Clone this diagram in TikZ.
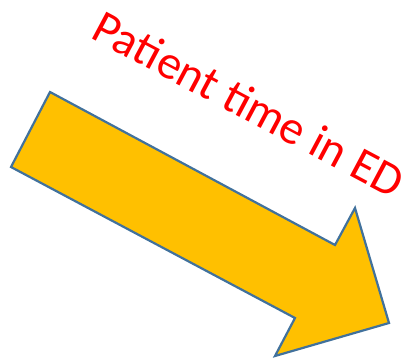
\documentclass[tikz,border=0pt]{standalone}
\usepackage{fontspec}
\setmainfont{Carlito}
\definecolor{arrowfill}{HTML}{FFC000}
\definecolor{arrowline}{HTML}{41719C}
\definecolor{txtred}{HTML}{FF0000}
\tikzset{
  bigarrow/.style={fill=arrowfill, draw=arrowline, line width=2.2pt, line join=miter},
  slanttext/.style={text=txtred, font=\fontsize{47.5}{54}\selectfont, inner sep=0pt, rotate=-28, anchor=base west}
}
\begin{document}
\begin{tikzpicture}[x=1pt,y=-1pt]
\useasboundingbox (0,0) rectangle (407,359);
\coordinate (t1) at (50,92);
\coordinate (t2) at (11,167);
\coordinate (b1) at (295,318);
\coordinate (b2) at (275,356);
\coordinate (tip) at (389,323);
\coordinate (h1) at (355,208);
\coordinate (h2) at (335,245);
\draw[bigarrow] (t1) -- (h2) -- (h1) -- (tip) -- (b2) -- (b1) -- (t2) -- cycle;
\node[slanttext] (label) at (89,37) {Patient time in ED};
\end{tikzpicture}
\end{document}
